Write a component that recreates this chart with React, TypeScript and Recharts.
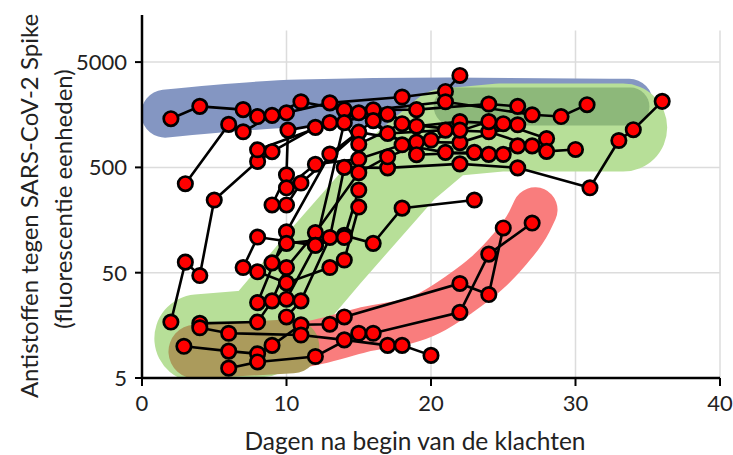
import React from 'react';
import { LineChart, Line, XAxis, YAxis, ReferenceLine } from 'recharts';

type Pt = [number, number]; // [dag, antistoffen]

// assen
const xTicks = [0, 10, 20, 30, 40];
const yTicks = [5, 50, 500, 5000];
const gridDays = [10, 20, 30, 40];
const gridValues = [50, 500, 5000];
const gridTop = 10000;

// gekleurde achtergrondbanden (middellijn van de band)
const blueBand: Pt[] = [[1.6, 1620], [10.9, 2020], [21.2, 2110], [33.7, 2050]];
const greenBand: Pt[] = [
  [3.9, 11.9], [8.2, 13.3], [12.8, 74], [18.1, 497], [21.0, 1070], [24.7, 1194], [33.3, 1194],
];
const darkGreenBand: Pt[] = [[21.5, 1890], [33.8, 1890]];
const redBand: Pt[] = [
  [3.7, 8.8], [10.9, 10.2], [15.2, 14.2], [19.9, 20.7], [21.9, 30.7], [23.8, 48.6], [25.4, 82], [26.8, 152], [27.2, 198],
];
const brownBand: Pt[] = [[3.7, 8.9], [10.4, 10.0]];

// patiënten
const p01: Pt[] = [[2, 1450], [4, 1900], [7, 1770], [8, 1520], [10, 1650], [13, 2050], [18, 2330], [21, 2630], [22, 3735]];
const p02: Pt[] = [[3, 350], [6, 1280], [7, 1090], [9, 1560], [11, 2100], [14, 1760], [19, 1770], [24, 2000], [26, 1900]];
const p03: Pt[] = [[2, 17], [3, 63], [4, 47], [5, 245], [8, 570], [9, 705], [12, 1200], [16, 1760], [21, 2100], [27, 1580], [29, 1520], [30.8, 1970]];
const p04: Pt[] = [[10, 19], [11, 27], [13, 108], [14, 500], [17, 495], [22, 540], [26, 495], [31, 320], [33, 900], [34, 1140], [36, 2120]];
const p05: Pt[] = [[9, 220], [10, 425], [10.1, 1130], [13, 1330], [17, 1600], [19, 1230], [22, 1360], [25, 1300], [28, 940]];
const p06: Pt[] = [[8, 735], [15, 1650], [17, 1050], [21, 1130], [24, 1090], [27, 800], [28, 710], [30, 740]];
const p07: Pt[] = [[10, 220], [11, 355], [15, 1080], [19, 870], [22, 860], [26, 1270]];
const p08: Pt[] = [[10, 320], [12, 535], [15, 600], [18, 820], [21, 695], [24, 665], [26, 800]];
const p09: Pt[] = [[8, 26], [10, 122], [13, 670], [16, 1390], [19, 660], [23, 695], [25, 665]];
const p10: Pt[] = [[4, 16.5], [8, 17], [9, 27], [10, 56], [12, 120], [15, 445], [17, 630], [20, 910], [24, 1360]];
const p11: Pt[] = [[7, 56], [8, 109], [12, 91], [14, 113], [16, 95], [18, 205], [23, 245]];
const p12: Pt[] = [[8, 51], [10, 40], [13, 56], [14, 66], [15, 210]];
const p13: Pt[] = [[9, 62], [10, 95], [14, 108], [15, 305]];
const p14: Pt[] = [[10, 28], [12, 91], [14, 1330], [15, 830], [18, 1300], [22, 1130]];
const p15: Pt[] = [[2.9, 10], [6, 9], [8, 8.5], [9, 10.2], [11, 16], [13, 16.2], [14, 19], [22, 39.5], [24, 31], [25, 133]];
const p16: Pt[] = [[4, 15], [6, 13.3], [11, 12.8], [14, 11.5], [17, 10.2], [18, 10.2], [20, 8.2]];
const p17: Pt[] = [[6, 6.2], [8, 7.1], [12, 8], [15, 13.3], [16, 13.3], [22, 21], [24, 75], [27, 148]];

const patients = [p01, p02, p03, p04, p05, p06, p07, p08, p09, p10, p11, p12, p13, p14, p15, p16, p17];

const rows = (pts: Pt[]) => pts.map(([day, value]) => ({ day, value }));

const FONT = 'Lato, "DejaVu Sans", sans-serif';

const YTitle = () => (
  <g fill="#222" fontFamily={FONT} fontSize={24}>
    <text transform="translate(28,206) rotate(-90)" textAnchor="middle" dominantBaseline="central">
      Antistoffen tegen SARS-CoV-2 Spike
    </text>
    <text transform="translate(62,199) rotate(-90)" textAnchor="middle" dominantBaseline="central">
      (fluorescentie eenheden)
    </text>
  </g>
);

const XTitle = () => (
  <text x={415} y={440} textAnchor="middle" dominantBaseline="central" fill="#222" fontFamily={FONT} fontSize={24.5}>
    Dagen na begin van de klachten
  </text>
);

export default function App() {
  const band = (key: string, pts: Pt[], color: string, width: number, curve: 'linear' | 'monotone') => (
    <Line
      key={key}
      data={rows(pts)}
      dataKey="value"
      type={curve}
      stroke={color}
      strokeWidth={width}
      strokeLinecap="round"
      strokeLinejoin="round"
      dot={false}
      activeDot={false}
      isAnimationActive={false}
    />
  );

  return (
    <div style={{ position: 'absolute', left: 0, top: 0, width: 733, height: 455, background: '#fff' }}>
      <LineChart width={733} height={455} margin={{ top: 15, right: 13, bottom: 0, left: 0 }}>
        <XAxis
          type="number"
          dataKey="day"
          domain={[0, 40]}
          ticks={xTicks}
          height={77}
          tickSize={8}
          tickMargin={9}
          axisLine={{ stroke: '#000', strokeWidth: 2.5 }}
          tickLine={{ stroke: '#000', strokeWidth: 2 }}
          tick={{ fill: '#222', fontSize: 22, fontFamily: FONT }}
          label={<XTitle />}
        />
        <YAxis
          type="number"
          dataKey="value"
          scale="log"
          domain={[5, 14000]}
          allowDataOverflow
          ticks={yTicks}
          width={142}
          tickSize={7}
          tickMargin={8}
          axisLine={{ stroke: '#000', strokeWidth: 2.5 }}
          tickLine={{ stroke: '#000', strokeWidth: 2 }}
          tick={{ fill: '#222', fontSize: 22, fontFamily: FONT }}
          label={<YTitle />}
        />
        {gridValues.map((v) => (
          <ReferenceLine key={'h' + v} y={v} stroke="#dcdcdc" strokeWidth={1.5} />
        ))}
        {gridDays.map((d) => (
          <ReferenceLine
            key={'v' + d}
            segment={[{ x: d, y: 5 }, { x: d, y: gridTop }]}
            stroke="#dcdcdc"
            strokeWidth={1.5}
          />
        ))}
        {band('blue', blueBand, '#8496c2', 48, 'monotone')}
        {band('green', greenBand, '#b7df98', 88, 'linear')}
        {band('darkgreen', darkGreenBand, '#8db87a', 38, 'linear')}
        {band('red', redBand, '#f97d7d', 45, 'monotone')}
        {band('brown', brownBand, '#ab9b5c', 54, 'linear')}
        {patients.map((p, i) => (
          <Line
            key={'p' + i}
            data={rows(p)}
            dataKey="value"
            type="linear"
            stroke="#000"
            strokeWidth={2.6}
            dot={{ r: 7.2, fill: '#ff0000', stroke: '#000', strokeWidth: 2.7 }}
            activeDot={false}
            isAnimationActive={false}
          />
        ))}
      </LineChart>
    </div>
  );
}
